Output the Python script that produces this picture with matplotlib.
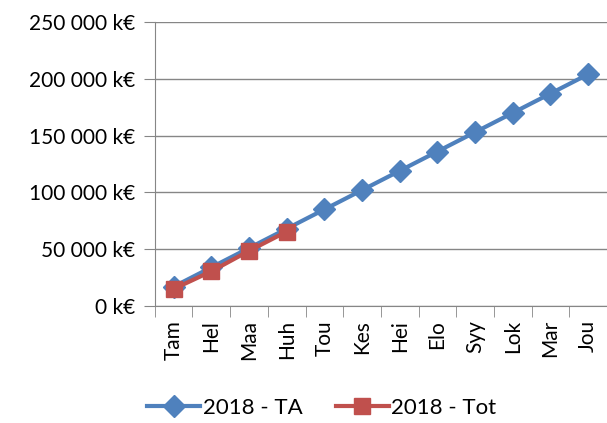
import numpy as np
import matplotlib.pyplot as plt
from matplotlib.ticker import FuncFormatter

# Kuukaudet ja arvot (k€)
kuukaudet = ['Tam', 'Hel', 'Maa', 'Huh', 'Tou', 'Kes', 'Hei', 'Elo', 'Syy', 'Lok', 'Mar', 'Jou']
ta_2018 = [17000, 34000, 51000, 68000, 85000, 102000, 119000, 136000, 153000, 170000, 187000, 204000]
tot_2018 = [15000, 30500, 48500, 65500]

plt.rcParams['font.family'] = ['Lato', 'DejaVu Sans']
fs = 15

fig = plt.figure(figsize=(6.07, 4.23), dpi=100)
ax = fig.add_axes([0.255, 0.2766, 0.745, 0.6714])

x = np.arange(len(kuukaudet))
ax.plot(x, ta_2018, color='#4F81BD', linewidth=3, marker='D', markersize=11,
        label='2018 - TA', zorder=3)
ax.plot(x[:len(tot_2018)], tot_2018, color='#C0504D', linewidth=3, marker='s',
        markersize=12, label='2018 - Tot', zorder=4)

ax.set_xlim(-0.5, len(kuukaudet) - 0.5)
ax.set_ylim(0, 250000)
ax.set_yticks(np.arange(0, 250001, 50000))
ax.yaxis.set_major_formatter(FuncFormatter(lambda v, p: f"{int(v):,}".replace(',', ' ') + ' k€'))
ax.set_xticks(x)
ax.set_xticklabels(kuukaudet, rotation=90)
ax.set_xticks(np.arange(-0.5, len(kuukaudet), 1), minor=True)
ax.tick_params(axis='x', which='major', length=0, pad=10, labelsize=fs)
ax.tick_params(axis='x', which='minor', length=8, color='#868686', direction='out')
ax.tick_params(axis='y', length=8, color='#868686', labelsize=fs, pad=6)

ax.grid(axis='y', color='#868686', linewidth=1)
ax.set_axisbelow(True)
for s in ['top', 'right']:
    ax.spines[s].set_visible(False)
for s in ['left', 'bottom']:
    ax.spines[s].set_color('#868686')

fig.legend(loc='lower center', ncol=2, frameon=False, fontsize=16,
           bbox_to_anchor=(0.53, -0.035), handlelength=2.4, columnspacing=1.5,
           handletextpad=0.1)

fig.savefig('out.png', dpi=100)
